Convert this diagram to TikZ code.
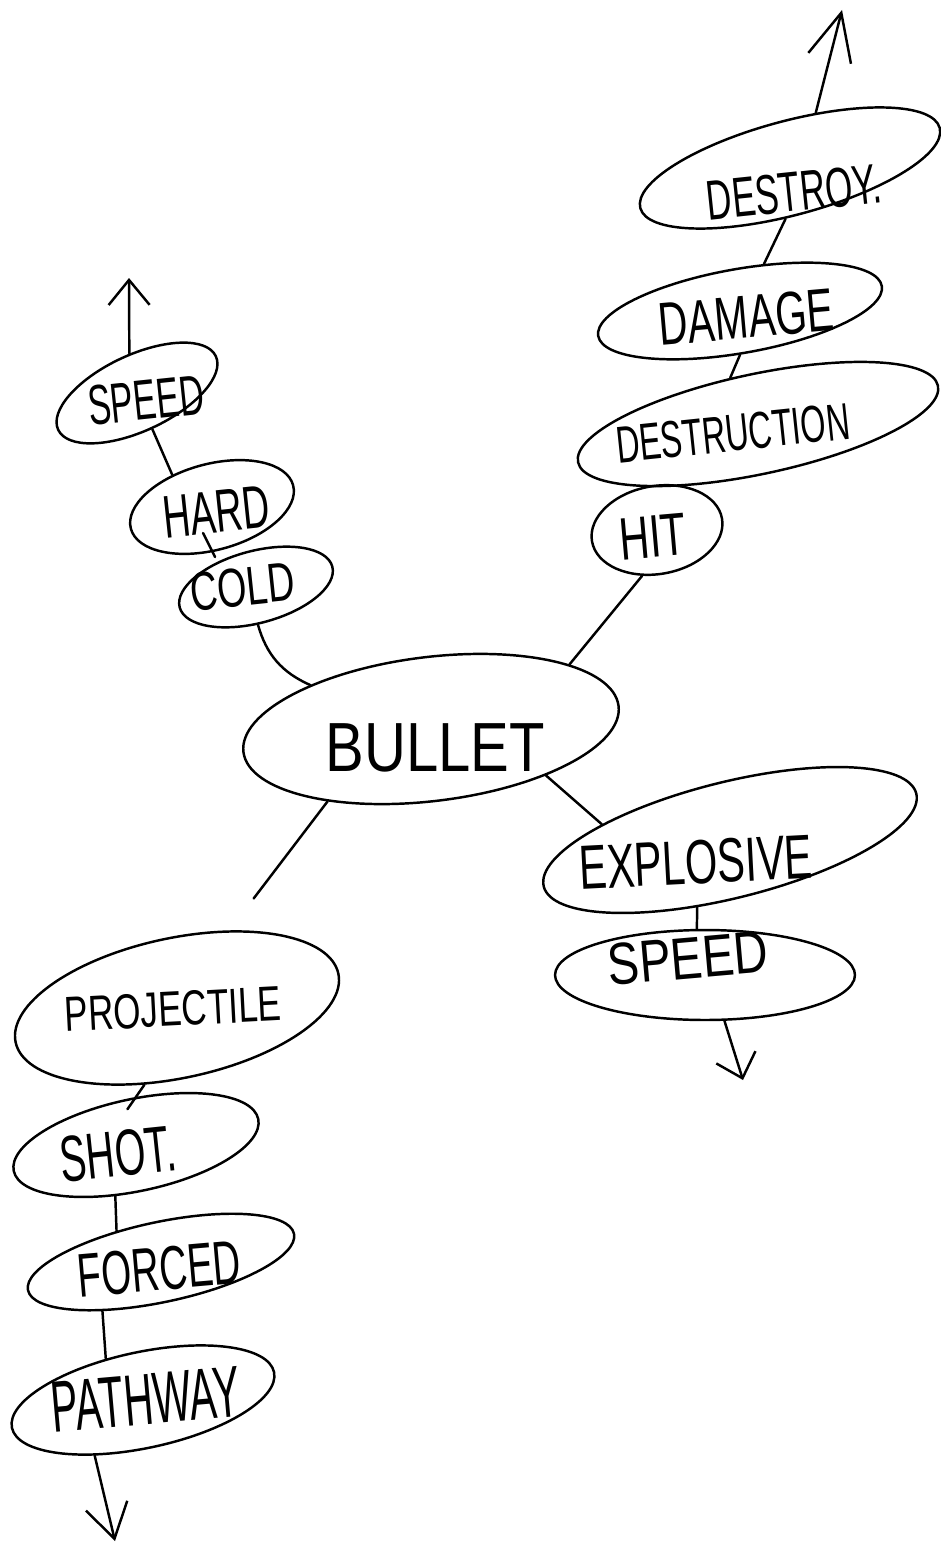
\documentclass[tikz,border=0pt]{standalone}
\usepackage{fontspec}
\setmainfont{Liberation Sans}
\usepackage{graphicx}
\usetikzlibrary{shapes.geometric,arrows.meta}
% hand text: x offset, y raise, extra rotation, vertical stretch, text
\newcommand\hwtext[5]{\smash{\makebox[0pt]{\hspace*{#1}\hspace*{#1}\raisebox{#2}{\rotatebox[origin=c]{#3}{\raisebox{-0.5\height}{\scalebox{1}[#4]{#5}}}}}}}
\tikzset{
  bub/.style={ellipse, draw, line width=1.4pt, inner sep=0pt, font=\fontsize{#1}{#1}\selectfont},
  link/.style={line width=1.4pt, line cap=round},
  tipbig/.style={-{Straight Barb[length=0.94cm,width=0.88cm]}},
  tipup/.style={-{Straight Barb[length=0.5cm,width=0.82cm]}},
  tipdr/.style={-{Straight Barb[length=0.44cm,width=0.82cm]}},
  tipdl/.style={-{Straight Barb[length=0.68cm,width=0.85cm]}}
}
\begin{document}
\begin{tikzpicture}[x=0.02cm,y=-0.02cm]
\path[use as bounding box, fill=white] (0,0) rectangle (940,1544);

% nodes
\node[bub=33, minimum width=7.56cm, minimum height=2.88cm, rotate=7] (bullet) at (431,729) {\hwtext{0.04cm}{-0.38cm}{-7}{1.2}{BULLET}};
\node[bub=20, minimum width=6.2cm, minimum height=1.88cm, rotate=15] (destroy) at (790,168) {\hwtext{-0.05cm}{-0.48cm}{-9}{1.6}{DESTROY.}};
\node[bub=23, minimum width=5.76cm, minimum height=1.68cm, rotate=10] (damage) at (740,311) {\hwtext{0.1cm}{-0.14cm}{-5}{1.5}{DAMAGE}};
\node[bub=18.5, minimum width=7.36cm, minimum height=2.0cm, rotate=12] (destruction) at (758,424) {\hwtext{-0.53cm}{-0.07cm}{-6}{1.6}{DESTRUCTION}};
\node[bub=23.6, minimum width=2.64cm, minimum height=1.76cm, rotate=10] (hit) at (657,530) {\hwtext{-0.1cm}{-0.12cm}{-5}{1.45}{HIT}};
\node[bub=23.7, minimum width=7.68cm, minimum height=2.32cm, rotate=14] (explosive) at (730,840) {\hwtext{-0.77cm}{-0.26cm}{-11}{1.5}{EXPLOSIVE}};
\node[bub=27, minimum width=6.0cm, minimum height=1.8cm, rotate=0] (speedR) at (705,975) {\hwtext{-0.34cm}{0.34cm}{5}{1.25}{SPEED}};
\node[bub=19.5, minimum width=3.48cm, minimum height=1.52cm, rotate=25] (speedL) at (137,393) {\hwtext{0.1cm}{-0.2cm}{-19}{1.65}{SPEED}};
\node[bub=21.5, minimum width=3.36cm, minimum height=1.72cm, rotate=15] (hard) at (212,507) {\hwtext{0.06cm}{-0.12cm}{-9}{1.6}{HARD}};
\node[bub=21.5, minimum width=3.16cm, minimum height=1.44cm, rotate=15] (cold) at (256,587) {\hwtext{-0.26cm}{0.08cm}{-9}{1.45}{COLD}};
\node[bub=20, minimum width=6.6cm, minimum height=2.8cm, rotate=12] (projectile) at (177,1008) {\hwtext{-0.08cm}{0cm}{-9}{1.4}{PROJECTILE}};
\node[bub=22.5, minimum width=5.0cm, minimum height=1.84cm, rotate=12] (shot) at (136,1145) {\hwtext{-0.39cm}{-0.1cm}{-6}{1.65}{SHOT.}};
\node[bub=22, minimum width=5.44cm, minimum height=1.6cm, rotate=12] (forced) at (161,1262) {\hwtext{-0.06cm}{-0.12cm}{-7}{1.6}{FORCED}};
\node[bub=23, minimum width=5.36cm, minimum height=1.92cm, rotate=12] (pathway) at (143,1400) {\hwtext{0.06cm}{0cm}{-7}{1.8}{PATHWAY}};

% free ends of the arrows
\coordinate (upR) at (842,10);
\coordinate (upL) at (129,278);
\coordinate (downR) at (743,1080);
\coordinate (downL) at (115,1541);

% connectors
\draw[link,tipbig] (destroy.50) -- (upR);
\draw[link] (destroy.250) -- (damage.53);
\draw[link] (damage.260) -- (destruction.109);
\draw[link] (hit.242) -- (bullet.18);
\draw[link] (cold.258) to[bend right=25] (bullet.153);
\draw[link, shorten >=0.8cm] (bullet.208) -- (projectile.44);
\draw[link] (bullet.331) -- (explosive.159);
\draw[link] (explosive.230) -- (speedR.100);
\draw[link,tipdr] (speedR.293) -- (downR);
\draw[link,tipup] (speedL.76) -- (upL);
\draw[link] (speedL.268) -- (hard.126);
\draw[link] ([shift={(-9,26)}]hard.center) -- ([shift={(-41,-30)}]cold.center);
\draw[link, shorten >=-0.3cm] (projectile.235) -- (shot.78);
\draw[link] (shot.236) -- (forced.133);
\draw[link] (forced.208) -- (pathway.120);
\draw[link,tipdl] (pathway.217) -- (downL);
\end{tikzpicture}
\end{document}
